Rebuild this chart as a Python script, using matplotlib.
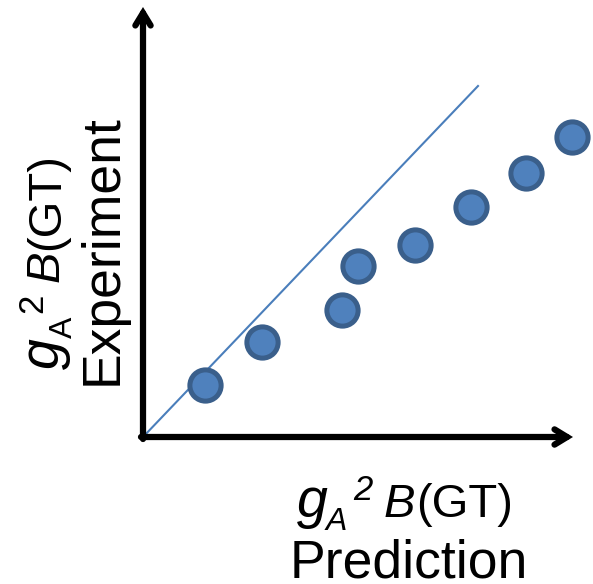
import matplotlib
matplotlib.use("Agg")
import matplotlib.pyplot as plt
from matplotlib.transforms import offset_copy

plt.rcParams['font.family'] = ['Liberation Sans', 'DejaVu Sans']

# Predicted vs. experimental strength (arbitrary units)
prediction = [1.24, 2.38, 3.98, 4.30, 5.44, 6.56, 7.66, 8.58]
experiment = [1.04, 1.90, 2.54, 3.42, 3.84, 4.60, 5.28, 6.00]
# Reference line from the origin
ref_x = [0.0, 6.70]
ref_y = [0.0, 7.02]

# Label pieces: (text, size in pt, italic, baseline shift px, gap before px)
x_title = [('g', 40, True, 0, 0), ('A', 23, True, -13, -2),
           ('2', 25, True, 17, 6), ('B', 34, True, 0, 11),
           ('(GT)', 34, False, 0, 1)]
y_title = [('g', 40, True, 0, 0), ('A', 23, False, -13, 0),
           ('2', 25, False, 17, 4), ('B', 34, True, 0, 11),
           ('(GT)', 34, False, 0, 1)]
x_sub = 'Prediction'
y_sub = 'Experiment'

fig = plt.figure(figsize=(5.93, 5.84), dpi=100)
ax = fig.add_axes([0, 0, 1, 1])
ax.set_xlim(-2.86, 9.0)
ax.set_ylim(-2.94, 8.74)
ax.axis('off')


def draw_runs(ax, x, y, runs, rotation=0):
    """Lay out mixed-size text pieces along a baseline centred on (x, y)."""
    fig = ax.figure
    renderer = fig.canvas.get_renderer()
    widths = []
    for text, size, italic, _, _ in runs:
        t = ax.text(0, 0, text, fontsize=size,
                    style='italic' if italic else 'normal')
        widths.append(t.get_window_extent(renderer).width)
        t.remove()
    total = sum(widths) + sum(r[4] for r in runs)
    along = (1, 0) if rotation == 0 else (0, 1)
    perp = (0, 1) if rotation == 0 else (-1, 0)
    pos = -total / 2
    for (text, size, italic, shift, gap), w in zip(runs, widths):
        pos += gap
        dx = pos * along[0] + shift * perp[0]
        dy = pos * along[1] + shift * perp[1]
        tr = offset_copy(ax.transData, fig=fig, x=dx, y=dy, units='dots')
        ax.text(x, y, text, fontsize=size, transform=tr,
                style='italic' if italic else 'normal',
                ha='left', va='baseline', rotation=rotation,
                rotation_mode='anchor')
        pos += w


# Axis arrows
arrow_kw = dict(arrowstyle='->,head_length=0.9,head_width=0.55', lw=4.5,
                color='black', shrinkA=0, shrinkB=0, joinstyle='miter')
ax.annotate('', xy=(0, 8.6), xytext=(0, -0.04), arrowprops=arrow_kw)
ax.annotate('', xy=(8.6, 0), xytext=(-0.04, 0), arrowprops=arrow_kw)

ax.plot(ref_x, ref_y, color='#4A7EBB', lw=1.5, zorder=2)
ax.plot(prediction, experiment, 'o', ms=22.5, mfc='#4F81BD', mec='#3A5F8B',
        mew=3.6, zorder=3)

fs = 38.5
draw_runs(ax, 5.24, -1.6, x_title)
ax.text(5.31, -2.80, x_sub, fontsize=fs, ha='center', va='baseline')
draw_runs(ax, -1.68, 3.52, y_title, rotation=90)
ax.text(-0.52, 3.74, y_sub, fontsize=fs, ha='center', va='baseline',
        rotation=90, rotation_mode='anchor')

fig.savefig('out.png', dpi=100)
